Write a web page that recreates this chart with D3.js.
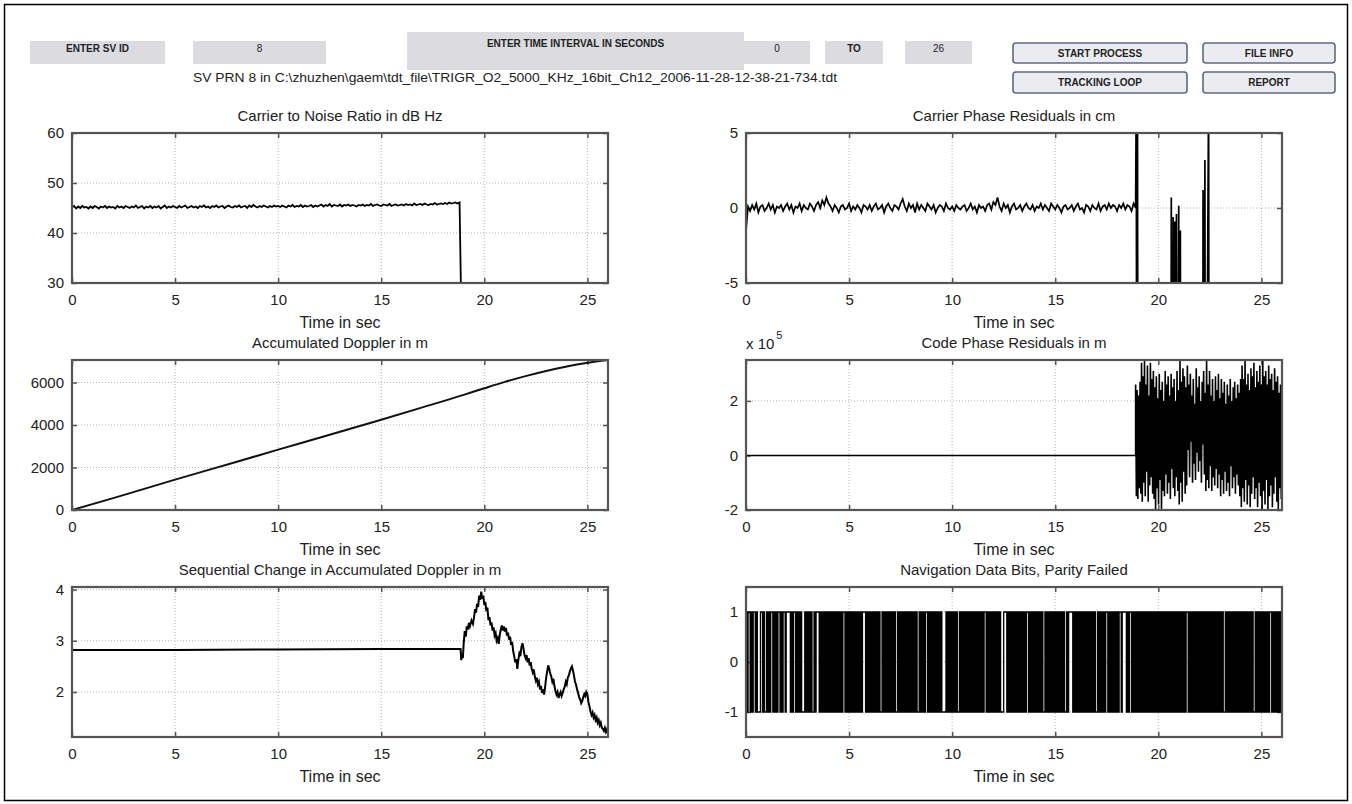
<!DOCTYPE html>
<html>
<head>
<meta charset="utf-8">
<script src="https://cdn.jsdelivr.net/npm/d3@7"></script>
<style>
  body { margin: 0; background: #fff; }
  svg text { font-family: "Liberation Sans", Arial, sans-serif; fill: #222; }
</style>
</head>
<body>
<div id="viz"></div>
<script>
// ---- data ----
const xTicks = [0, 5, 10, 15, 20, 25];

// carrier to noise ratio (dB Hz), one sample every 0.1 s from t = 0
const cnrStep = 0.1;
const cnrValues = [
  45.1,45.4,44.9,45.3,45.0,45.4,45.1,45.2,44.9,45.3,45.0,45.4,45.2,44.9,45.3,45.1,45.4,45.0,45.3,45.1,
  45.2,44.9,45.4,45.1,45.3,45.0,45.4,45.2,45.0,45.3,45.1,45.5,45.0,45.2,45.4,44.9,45.3,45.1,45.4,45.0,
  45.3,45.1,45.4,44.9,45.2,45.5,45.0,45.3,45.1,45.4,45.2,45.0,45.4,45.1,45.3,45.5,45.0,45.2,45.4,45.1,
  45.3,45.0,45.4,45.2,45.5,45.1,45.3,45.0,45.4,45.2,45.5,45.1,45.3,45.4,45.0,45.3,45.5,45.2,45.1,45.4,
  45.2,45.5,45.1,45.3,45.4,45.0,45.5,45.2,45.6,45.3,45.1,45.4,45.2,45.5,45.3,45.1,45.4,45.2,45.5,45.3,
  45.4,45.2,45.5,45.3,45.1,45.5,45.3,45.6,45.2,45.4,45.3,45.6,45.2,45.5,45.3,45.4,45.6,45.2,45.5,45.3,
  45.5,45.7,45.3,45.6,45.4,45.8,45.3,45.6,45.5,45.4,45.7,45.3,45.6,45.5,45.7,45.4,45.6,45.5,45.3,45.6,
  45.5,45.7,45.4,45.6,45.5,45.8,45.4,45.6,45.7,45.5,45.4,45.7,45.6,45.5,45.8,45.4,45.6,45.7,45.5,45.6,
  45.7,45.5,45.8,45.6,45.7,45.5,45.9,45.6,45.7,45.8,45.6,45.9,45.7,45.6,45.8,45.7,46.0,45.7,45.8,45.9,
  45.8,46.0,45.8,46.1,45.9,46.0,46.1,45.9,46.1,20
];

// carrier phase residuals (cm), one sample every 0.1 s until lock is lost
const carrierStep = 0.1;
const carrierValues = [
  -1.5,0.1,-0.2,0.2,-0.1,0.3,-0.3,0.1,0.2,-0.2,0.0,0.3,-0.1,0.2,-0.3,0.1,0.0,0.2,-0.2,0.1,
  0.3,-0.1,0.2,-0.3,0.1,0.0,0.3,-0.2,0.2,0.0,-0.1,0.3,0.1,-0.2,0.2,0.4,0.0,0.5,0.2,0.7,
  0.3,0.1,-0.2,0.2,0.0,-0.3,0.1,0.2,-0.1,0.0,0.3,-0.2,0.1,-0.1,0.2,0.0,-0.3,0.2,0.1,-0.1,
  0.2,-0.2,0.1,0.3,-0.1,0.0,0.2,-0.3,0.1,0.3,0.0,-0.2,0.2,0.1,-0.1,0.3,0.6,0.1,-0.2,0.3,
  0.0,0.2,-0.3,0.3,-0.1,0.2,0.0,-0.2,0.3,0.1,-0.1,0.2,-0.3,0.0,0.2,0.1,-0.2,0.3,0.0,-0.1,
  0.1,-0.2,0.2,0.0,-0.1,0.1,0.2,-0.2,0.0,0.3,-0.1,0.1,-0.3,0.2,0.0,0.1,-0.2,0.2,0.3,-0.1,
  0.4,0.2,0.7,0.1,-0.2,0.3,0.0,0.2,-0.3,0.1,0.3,-0.1,0.0,0.2,-0.2,0.1,0.3,0.0,-0.1,0.2,
  -0.2,0.1,0.0,0.3,-0.1,0.2,0.0,-0.2,0.3,0.1,-0.1,0.2,0.0,-0.3,0.1,0.2,-0.1,0.0,0.2,-0.2,
  0.1,0.3,-0.1,0.0,-0.3,0.2,0.1,-0.2,0.2,0.0,-0.1,0.3,-0.2,0.1,0.2,-0.1,0.3,0.0,0.2,0.1,
  -0.2,0.2,0.0,0.3,-0.1,0.2,0.1,-0.2,0.3,0.0
];
// after 18.9 s the residuals jump far off scale, with a few spikes inside
const carrierTail = [
  [18.93, 8], [18.96, -30], [18.99, 8], [19.02, -30], [20.6, -30], [20.63, 0.7], [20.66, -30],
  [20.72, -0.6], [20.75, -30], [20.8, -0.9], [20.84, -30], [20.88, -0.4], [20.92, -30],
  [20.99, 0.15], [21.03, -30], [21.07, -1.5], [21.1, -30], [22.15, -30], [22.17, 1.2],
  [22.2, -30], [22.26, 3.2], [22.29, -30], [22.44, 8], [22.47, -30], [26, -30]
];

// accumulated Doppler (m)
const dopplerPoints = [
  [0, 0], [2, 560], [5, 1430], [8, 2270], [10, 2840], [12, 3400], [15, 4250], [17, 4830],
  [19, 5420], [20, 5730], [21, 6030], [22, 6300], [23, 6540], [24, 6750], [25, 6930], [26, 7060]
];

// code phase residuals (x 1e5 m): flat until 18.9 s, then noise sampled evenly to 26 s
const codeFlat = [[0, 0], [18.9, 0]];
const codeNoiseSpan = [18.9, 26];
const codeNoise = [
  2.6,-1.5,2.4,-1.6,2.2,-1.2,2.7,-1.4,
  3.4,-1.7,2.9,-1.0,3.5,-1.5,2.6,-0.6,3.3,-1.7,2.2,-1.1,3.4,-0.8,2.8,-1.4,3.1,
  -1.6,2.5,-2.0,2.9,-1.2,2.1,-1.8,3.0,-0.9,2.4,-2.0,2.7,-1.3,2.0,
  -1.5,3.1,-0.7,2.6,-1.4,2.9,-1.0,2.2,-1.6,3.0,-0.5,2.5,-1.2,2.8,-1.5,2.0,-0.8,3.1,-1.3,2.4,
  -1.8,3.5,-1.0,2.7,-1.7,3.2,-0.6,2.9,-1.4,2.5,-1.1,
  3.3,0.2,2.6,-0.8,3.0,0.5,2.2,-1.0,2.8,-0.3,1.9,-0.9,3.2,0.1,2.5,-0.6,2.9,-0.2,2.0,-1.0,2.7,0.4,3.1,-0.7,2.3,
  -1.3,3.5,-0.9,2.6,-1.2,3.1,-0.4,2.2,-1.3,2.8,-0.8,2.0,-1.1,2.9,-0.5,2.4,-1.2,3.0,-0.7,2.1,
  -1.5,2.8,-0.9,2.3,-1.4,2.7,-0.6,1.9,-1.3,2.6,-1.0,2.2,-1.5,2.8,-0.4,2.0,-1.2,2.5,-0.8,2.7,-1.4,2.1,-0.7,2.6,-1.1,2.3,-1.5,2.8,
  -1.9,3.3,-1.2,2.8,-1.7,3.5,-0.9,2.6,-1.8,3.0,-1.1,2.4,-1.9,3.2,-1.4,2.9,-0.8,3.4,-1.6,2.5,-1.2,3.1,-1.9,2.7,-1.0,3.3,-1.5,2.6,
  -2.0,3.5,-1.3,2.9,-1.8,3.1,-0.9,2.6,-2.0,3.3,-1.5,2.8,-1.1,3.0,-1.9,2.4,-1.4,3.2,-0.8,2.7,-1.7,2.9,-2.0,2.3,-1.2,2.6,-1.6,0.5
];

// sequential change in accumulated Doppler (m)
const seqPoints = [
  [0, 2.82], [5, 2.82], [10, 2.83], [15, 2.84], [18.85, 2.84], [18.88, 2.62], [18.92, 2.75],
  [18.96, 2.66], [19.0, 2.95], [19.05, 3.19], [19.1, 3.08], [19.15, 3.28], [19.2, 3.22],
  [19.25, 3.35], [19.3, 3.28], [19.38, 3.40], [19.45, 3.33], [19.5, 3.45], [19.55, 3.62],
  [19.6, 3.55], [19.65, 3.72], [19.7, 3.66], [19.75, 3.88], [19.8, 3.80], [19.85, 3.96],
  [19.9, 3.82], [19.95, 3.88], [20.0, 3.70], [20.05, 3.76], [20.1, 3.58], [20.15, 3.65],
  [20.2, 3.40], [20.25, 3.46], [20.3, 3.30], [20.35, 3.36], [20.4, 3.20], [20.45, 3.26],
  [20.5, 3.10], [20.55, 3.15], [20.6, 3.00], [20.65, 3.05], [20.7, 2.94], [20.75, 3.12],
  [20.8, 3.22], [20.85, 3.30], [20.9, 3.20], [20.95, 3.28], [21.0, 3.18], [21.05, 3.25],
  [21.1, 3.10], [21.15, 3.16], [21.2, 3.02], [21.25, 3.08], [21.3, 2.92], [21.35, 2.98],
  [21.4, 2.80], [21.45, 2.70], [21.5, 2.58], [21.55, 2.64], [21.6, 2.45], [21.65, 2.62],
  [21.7, 2.75], [21.75, 2.70], [21.8, 2.88], [21.85, 2.95], [21.9, 2.85], [21.95, 2.72],
  [22.0, 2.66], [22.05, 2.72], [22.1, 2.58], [22.15, 2.66], [22.2, 2.52], [22.25, 2.58],
  [22.3, 2.45], [22.35, 2.38], [22.4, 2.44], [22.45, 2.30], [22.5, 2.22], [22.55, 2.28],
  [22.6, 2.15], [22.65, 2.20], [22.7, 2.05], [22.75, 2.12], [22.8, 1.98], [22.85, 2.05],
  [22.9, 1.95], [22.95, 2.10], [23.0, 2.28], [23.05, 2.40], [23.1, 2.52], [23.15, 2.45],
  [23.2, 2.36], [23.25, 2.30], [23.3, 2.20], [23.35, 2.26], [23.4, 2.12], [23.45, 2.02],
  [23.5, 1.95], [23.55, 2.00], [23.6, 1.88], [23.65, 1.95], [23.7, 2.00], [23.75, 1.92],
  [23.8, 1.98], [23.85, 2.05], [23.9, 2.10], [23.95, 2.20], [24.0, 2.15], [24.05, 2.28],
  [24.1, 2.32], [24.15, 2.40], [24.2, 2.46], [24.25, 2.50], [24.3, 2.42], [24.35, 2.32],
  [24.4, 2.20], [24.45, 2.14], [24.5, 2.05], [24.55, 1.98], [24.6, 1.90], [24.65, 1.85],
  [24.7, 1.78], [24.75, 1.82], [24.8, 1.90], [24.85, 1.96], [24.9, 1.92], [24.95, 2.00],
  [25.0, 1.96], [25.05, 1.80], [25.1, 1.72], [25.15, 1.62], [25.2, 1.55], [25.25, 1.60],
  [25.3, 1.50], [25.35, 1.55], [25.4, 1.45], [25.45, 1.50], [25.5, 1.40], [25.55, 1.45],
  [25.6, 1.35], [25.65, 1.40], [25.7, 1.30], [25.75, 1.28], [25.8, 1.24], [25.85, 1.30],
  [25.9, 1.22], [25.95, 1.27], [26.0, 1.18]
];

// navigation data bits, one symbol per 0.05 s ('1' = +1, '0' = -1), one line per second
const navStep = 0.05;
const navBits = [
  '10110101101000110100', '10101101010110101101', '11101011010101000101', '01010010111010101010',
  '10101010101010110101', '01010101010101110101', '01010101010010101010', '10101001010101010101',
  '01010100101010110101', '01010101010000101010', '10101001010101010101', '01010101010110101010',
  '10101010001110101010', '10101010101011010101', '01010101001010101010', '10101010100101111010',
  '10101010101010101010', '01010101011010101010', '10110111101011010101', '01010101010101010101',
  '01010101010101010101', '01010101101010101010', '10101010101010101010', '10100101010101010101',
  '01010101010100101010', '10101010110101010101', '0'
].join('');

const cnrTicks = [30, 40, 50, 60];
const carrierTicks = [-5, 0, 5];
const dopplerTicks = [0, 2000, 4000, 6000];
const codeTicks = [-2, 0, 2];
const seqTicks = [2, 3, 4];
const navTicks = [-1, 0, 1];

const controlLabels = ['ENTER SV ID', '8', 'ENTER TIME INTERVAL IN SECONDS', '0', 'TO', '26'];
const buttonLabels = ['START PROCESS', 'FILE INFO', 'TRACKING LOOP', 'REPORT'];
const filePath = 'SV PRN 8 in C:\\zhuzhen\\gaem\\tdt_file\\TRIGR_O2_5000_KHz_16bit_Ch12_2006-11-28-12-38-21-734.tdt';

// ---- layout ----
const W = 1352, H = 804;
const colLeft = [72, 746];
const rowTop = [133, 360, 587];
const plotW = 536, plotH = 150;
const ink = '#222';
const axisGray = '#555';

const svg = d3.select('#viz').append('svg')
  .attr('width', W).attr('height', H);

svg.append('rect')
  .attr('x', 4.5).attr('y', 4.5).attr('width', 1343).attr('height', 796)
  .attr('fill', '#fff').attr('stroke', '#000').attr('stroke-width', 1.5);

// top control strip
const controlBoxes = [
  { x: 30, y: 41, w: 135, h: 23, ty: 49, bold: true },
  { x: 193, y: 41, w: 133, h: 23, ty: 49, bold: false },
  { x: 407, y: 32, w: 337, h: 38, ty: 44, bold: true },
  { x: 744, y: 41, w: 66, h: 23, ty: 49, bold: false },
  { x: 825, y: 41, w: 58, h: 23, ty: 49, bold: true },
  { x: 905, y: 41, w: 67, h: 23, ty: 49, bold: false }
];
const ui = svg.append('g');
controlBoxes.forEach((b, i) => {
  ui.append('rect')
    .attr('x', b.x).attr('y', b.y).attr('width', b.w).attr('height', b.h)
    .attr('fill', '#dcdce0');
  ui.append('text')
    .attr('x', b.x + b.w / 2).attr('y', b.ty)
    .attr('text-anchor', 'middle').attr('dominant-baseline', 'middle')
    .style('font-family', '"Liberation Sans Narrow", "Liberation Sans", Arial, sans-serif')
    .style('font-size', '10px')
    .style('font-weight', b.bold ? 'bold' : 'normal')
    .text(controlLabels[i]);
});

const buttonBoxes = [
  { x: 1013, y: 43, w: 174, h: 20 },
  { x: 1203, y: 43, w: 132, h: 20 },
  { x: 1013, y: 72, w: 174, h: 21 },
  { x: 1203, y: 72, w: 132, h: 21 }
];
buttonBoxes.forEach((b, i) => {
  ui.append('rect')
    .attr('x', b.x).attr('y', b.y).attr('width', b.w).attr('height', b.h)
    .attr('rx', 3).attr('ry', 3)
    .attr('fill', '#ececf0').attr('stroke', '#5d6a86').attr('stroke-width', 1.6);
  ui.append('text')
    .attr('x', b.x + b.w / 2).attr('y', b.y + b.h / 2 + 1)
    .attr('text-anchor', 'middle').attr('dominant-baseline', 'middle')
    .style('font-family', '"Liberation Sans Narrow", "Liberation Sans", Arial, sans-serif')
    .style('font-size', '10px').style('font-weight', 'bold')
    .text(buttonLabels[i]);
});

ui.append('text')
  .attr('x', 193).attr('y', 82)
  .attr('textLength', 644).attr('lengthAdjust', 'spacingAndGlyphs')
  .style('font-size', '13px')
  .text(filePath);

// ---- one MATLAB style subplot ----
function drawPanel({ col, row, yDomain, yTicks, title, id }) {
  const left = colLeft[col], top = rowTop[row];
  const x = d3.scaleLinear().domain([0, 26]).range([left, left + plotW]);
  const y = d3.scaleLinear().domain(yDomain).range([top + plotH, top]);
  const g = svg.append('g');

  svg.append('clipPath').attr('id', id)
    .append('rect')
    .attr('x', left).attr('y', top).attr('width', plotW).attr('height', plotH);

  // dotted grid
  g.selectAll('.gx').data(xTicks).join('line')
    .attr('x1', d => x(d)).attr('x2', d => x(d))
    .attr('y1', top).attr('y2', top + plotH)
    .attr('stroke', '#b4b4b4').attr('stroke-dasharray', '1,2');
  g.selectAll('.gy').data(yTicks).join('line')
    .attr('x1', left).attr('x2', left + plotW)
    .attr('y1', d => y(d)).attr('y2', d => y(d))
    .attr('stroke', '#b4b4b4').attr('stroke-dasharray', '1,2');

  const styleAxis = sel => {
    sel.select('.domain').remove();
    sel.selectAll('line').attr('stroke', axisGray).attr('stroke-width', 1.5);
    sel.selectAll('text')
      .attr('fill', ink)
      .style('font-size', '15px')
      .style('font-family', '"Liberation Sans", Arial, sans-serif');
  };
  const plain = d => String(d);

  g.append('g').attr('transform', `translate(0,${top + plotH})`)
    .call(d3.axisBottom(x).tickValues(xTicks).tickFormat(plain).tickSize(-5).tickPadding(11))
    .call(styleAxis);
  g.append('g').attr('transform', `translate(0,${top})`)
    .call(d3.axisTop(x).tickValues(xTicks).tickSize(-5).tickFormat(''))
    .call(styleAxis);
  g.append('g').attr('transform', `translate(${left},0)`)
    .call(d3.axisLeft(y).tickValues(yTicks).tickFormat(plain).tickSize(-5).tickPadding(8))
    .call(styleAxis);
  g.append('g').attr('transform', `translate(${left + plotW},0)`)
    .call(d3.axisRight(y).tickValues(yTicks).tickSize(-5).tickFormat(''))
    .call(styleAxis);

  const data = g.append('g').attr('clip-path', `url(#${id})`);

  g.append('rect')
    .attr('x', left).attr('y', top).attr('width', plotW).attr('height', plotH)
    .attr('fill', 'none').attr('stroke', axisGray).attr('stroke-width', 2.2);

  svg.append('text')
    .attr('x', left + plotW / 2).attr('y', top - 12)
    .attr('text-anchor', 'middle')
    .style('font-size', '15px')
    .text(title);
  svg.append('text')
    .attr('x', left + plotW / 2).attr('y', top + plotH + 45)
    .attr('text-anchor', 'middle')
    .style('font-size', '16px')
    .text('Time in sec');

  return { x, y, data, left, top };
}

const lineOf = p => d3.line().x(d => p.x(d[0])).y(d => p.y(d[1]));

// Carrier to noise
const p1 = drawPanel({ col: 0, row: 0, yDomain: [30, 60], yTicks: cnrTicks,
  title: 'Carrier to Noise Ratio in dB Hz', id: 'clip1' });
p1.data.append('path')
  .datum(cnrValues.map((v, i) => [i * cnrStep, v]))
  .attr('d', lineOf(p1))
  .attr('fill', 'none').attr('stroke', '#000').attr('stroke-width', 1.8);

// Carrier phase residuals
const p2 = drawPanel({ col: 1, row: 0, yDomain: [-5, 5], yTicks: carrierTicks,
  title: 'Carrier Phase Residuals in cm', id: 'clip2' });
p2.data.append('path')
  .datum(carrierValues.map((v, i) => [i * carrierStep, v]).concat(carrierTail))
  .attr('d', lineOf(p2))
  .attr('fill', 'none').attr('stroke', '#000').attr('stroke-width', 1.7);

// Accumulated Doppler
const p3 = drawPanel({ col: 0, row: 1, yDomain: [0, 7060], yTicks: dopplerTicks,
  title: 'Accumulated Doppler in m', id: 'clip3' });
p3.data.append('path')
  .datum(dopplerPoints)
  .attr('d', lineOf(p3).curve(d3.curveMonotoneX))
  .attr('fill', 'none').attr('stroke', '#111').attr('stroke-width', 2);

// Code phase residuals
const p4 = drawPanel({ col: 1, row: 1, yDomain: [-2, 3.5], yTicks: codeTicks,
  title: 'Code Phase Residuals in m', id: 'clip4' });
const codeDt = (codeNoiseSpan[1] - codeNoiseSpan[0]) / (codeNoise.length - 1);
p4.data.append('path')
  .datum(codeFlat.concat(codeNoise.map((v, i) => [codeNoiseSpan[0] + i * codeDt, v])))
  .attr('d', lineOf(p4))
  .attr('fill', 'none').attr('stroke', '#000').attr('stroke-width', 1.6);
// exponent label
const expo = svg.append('text')
  .attr('x', p4.left).attr('y', p4.top - 11)
  .style('font-size', '15px');
expo.append('tspan').text('x 10');
expo.append('tspan').attr('dy', -10).attr('dx', 2).style('font-size', '11px').text('5');

// Sequential change
const p5 = drawPanel({ col: 0, row: 2, yDomain: [1.12, 4.05], yTicks: seqTicks,
  title: 'Sequential Change in Accumulated Doppler in m', id: 'clip5' });
p5.data.append('path')
  .datum(seqPoints)
  .attr('d', lineOf(p5))
  .attr('fill', 'none').attr('stroke', '#000').attr('stroke-width', 2);

// Navigation data bits
const p6 = drawPanel({ col: 1, row: 2, yDomain: [-1.5, 1.5], yTicks: navTicks,
  title: 'Navigation Data Bits, Parity Failed', id: 'clip6' });
p6.data.append('path')
  .datum(navBits.split('').map((b, i) => [i * navStep, b === '1' ? 1 : -1]))
  .attr('d', lineOf(p6).curve(d3.curveStepAfter))
  .attr('fill', 'none').attr('stroke', '#000').attr('stroke-width', 1.3);
</script>
</body>
</html>
